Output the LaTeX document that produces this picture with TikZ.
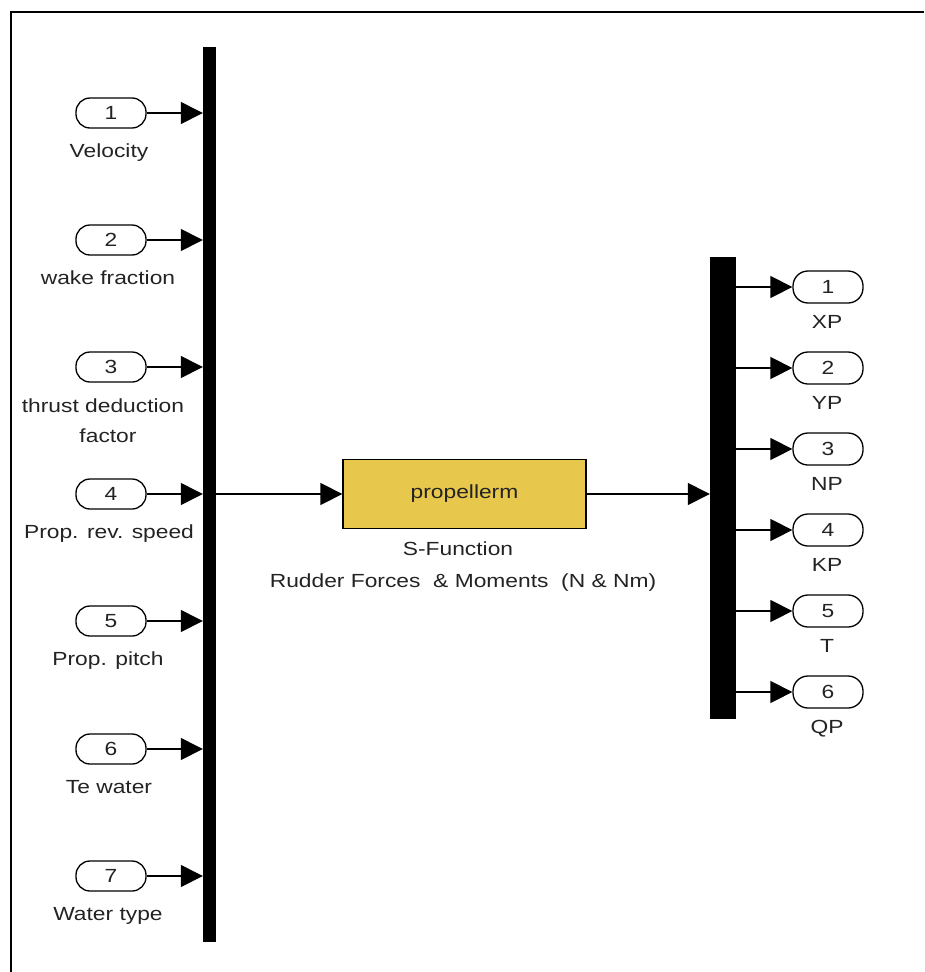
\documentclass[tikz,border=0pt]{standalone}
\usepackage{fontspec}
\setmainfont{Liberation Sans}[FakeStretch=1.2]
\usetikzlibrary{arrows.meta}
\definecolor{blockyellow}{RGB}{232,200,76}
\definecolor{txt}{RGB}{35,35,35}
\begin{document}
\begin{tikzpicture}[x=1pt,y=-1pt,
  every node/.style={font=\fontsize{19}{23}\selectfont, text=txt},
  inport/.style={draw, line width=1.3pt, rounded corners=14pt, minimum width=70pt, minimum height=30pt, inner sep=0pt},
  outport/.style={draw, line width=1.3pt, rounded corners=15pt, minimum width=70pt, minimum height=32pt, inner sep=0pt},
  bus/.style={fill=black, draw=none, inner sep=0pt},
  sig/.style={line width=1.4pt, -{Triangle[length=22pt,width=22pt]}},
  lbl/.style={anchor=base, inner sep=0pt}]
\useasboundingbox (0,0) rectangle (924,972);
\draw[line width=2pt] (11,972) -- (11,11.5) -- (924,11.5);

% buses
\node[bus, minimum width=13pt, minimum height=895pt] (busL) at (209.5,494.5) {};
\node[bus, minimum width=26pt, minimum height=462pt] (busR) at (723,488) {};

% input ports
\foreach \i/\y in {1/113,2/240,3/367,4/494,5/621,6/749,7/876}{
  \node[inport] (p\i) at (111,\y) {\i};
  \draw[sig] (p\i.east) -- (p\i.east -| busL.west);
}
\node[lbl] (l1) at (109,157) {Velocity};
\node[lbl] (l2) at (108,284) {wake fraction};
\node[lbl] (l3a) at (103,412) {thrust deduction};
\node[lbl] (l3b) at (108,442) {factor};
\node[lbl] (l4) at (109,538) {Prop. rev. speed};
\node[lbl] (l5) at (108,665) {Prop. pitch};
\node[lbl] (l6) at (109,793) {Te water};
\node[lbl] (l7) at (108,920) {Water type};

% block
\node[draw, fill=blockyellow, line width=1.3pt, minimum width=243pt, minimum height=69pt, inner sep=0pt] (blk) at (464.5,494) {propellerm};
\node[lbl] (bl1) at (458,555) {S-Function};
\node[lbl] (bl2) at (463,587) {Rudder Forces\ \ \& Moments\ \ (N \& Nm)};
\draw[sig] (busL.east |- blk.west) -- (blk.west);
\draw[sig] (blk.east) -- (blk.east -| busR.west);

% output ports
\foreach \i/\y/\t in {1/287/XP,2/368/YP,3/449/NP,4/530/KP,5/611/T,6/692/QP}{
  \node[outport] (q\i) at (828,\y) {\i};
  \draw[sig] (busR.east |- q\i.west) -- (q\i.west);
  \node[lbl] (ql\i) at (827,\y+41) {\t};
}
\end{tikzpicture}
\end{document}
